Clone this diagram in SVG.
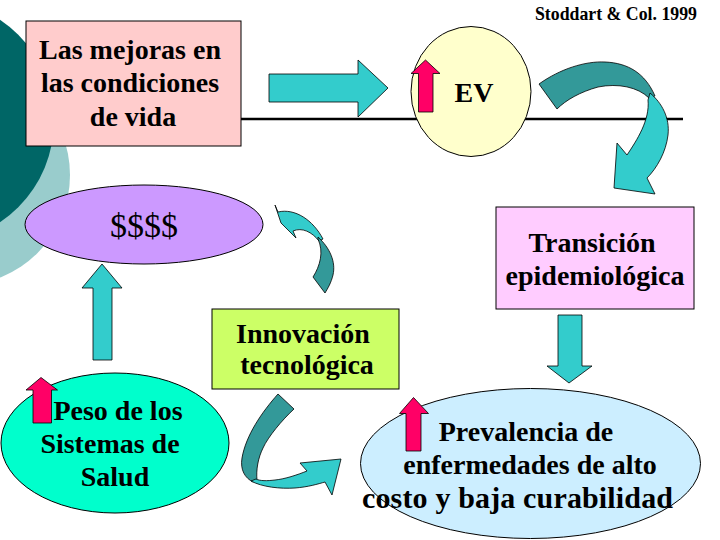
<svg xmlns="http://www.w3.org/2000/svg" width="720" height="540" viewBox="0 0 720 540">
<style>
.t{font-family:"Liberation Serif","Times New Roman",serif;font-weight:bold;font-size:28px;fill:#000;text-anchor:middle}
.s{stroke:#000;stroke-width:1}
.cy{fill:#33cccc;stroke:#000;stroke-width:0.8;stroke-linejoin:round}
.dk{fill:#339999;stroke:#000;stroke-width:0.8;stroke-linejoin:round}
.rd{fill:#ff0066;stroke:#000;stroke-width:0.8}
</style>
<rect width="720" height="540" fill="#fff"/>
<g id="background">
<circle cx="-40" cy="175" r="110" fill="#99cccc"/>
<circle cx="-68" cy="121" r="122" fill="#006666"/>
</g>
<line x1="241" y1="119" x2="683" y2="119" stroke="#000" stroke-width="2.5"/>
<g id="node-mejoras">
<rect x="26" y="21" width="215" height="125" fill="#ffcccc" class="s"/>
<text class="t" x="130" y="59">Las mejoras en</text>
<text class="t" x="130" y="92">las condiciones</text>
<text class="t" x="133" y="126">de vida</text>
</g>
<g id="node-ev">
<ellipse cx="471" cy="91.5" rx="60" ry="65" fill="#ffffcc" class="s"/>
<path class="rd" d="M425.5,60 L440,73.5 L433,73.5 L433,112 L418.5,112 L418.5,73.5 L411,73.5 Z"/>
<text class="t" x="474" y="102">EV</text>
</g>
<g id="node-dinero">
<ellipse cx="144" cy="224.5" rx="119" ry="39.5" fill="#cc99ff" class="s"/>
<text x="144" y="237" style="font-family:'Liberation Serif','Times New Roman',serif;font-size:34px;text-anchor:middle">$$$$</text>
</g>
<g id="node-transicion">
<rect x="496" y="207" width="198" height="102" fill="#ffccff" class="s"/>
<text class="t" x="592" y="252">Transición</text>
<text class="t" x="595" y="285">epidemiológica</text>
</g>
<g id="node-innovacion">
<rect x="212" y="309" width="187" height="80" fill="#ccff66" class="s"/>
<text class="t" x="303" y="343">Innovación</text>
<text class="t" x="307" y="374">tecnológica</text>
</g>
<g id="node-peso">
<ellipse cx="115" cy="443" rx="114" ry="70" fill="#00ffcc" class="s"/>
<path class="rd" d="M41,377.5 L57.5,390 L51.5,390 L51.5,423 L33,423 L33,390 L26,390 Z"/>
<text class="t" x="118" y="420">Peso de los</text>
<text class="t" x="110" y="453">Sistemas de</text>
<text class="t" x="115" y="486">Salud</text>
</g>
<g id="node-prevalencia">
<ellipse cx="530.5" cy="463.5" rx="170" ry="75" fill="#cceeff" class="s"/>
<path class="rd" d="M413.5,397.5 L428.5,413.5 L421,413.5 L421,451 L406,451 L406,413.5 L399.5,413.5 Z"/>
<text class="t" x="526" y="441">Prevalencia de</text>
<text class="t" x="530" y="474">enfermedades de alto</text>
<text class="t" x="517.5" y="508" style="font-size:30px" textLength="311" lengthAdjust="spacing">costo y baja curabilidad</text>
</g>
<g id="connectors">
<path class="cy" d="M269,74 L358,74 L358,60 L388,88 L358,117 L358,102 L269,102 Z"/>
<path class="dk" d="M539,84 C560,69 585,61 605,62 C628,63 645,73 655,96 L649,98 C638,87 618,83 598,87 C580,92 566,100 557,109 Z"/>
<path class="cy" d="M650,93 C662,103 670,118 668,135 C666,152 657,168 647,178 L655,194 L614,188 L617,143 L627,155 C637,140 650,120 648,100 Z"/>
<path class="cy" d="M558,315 L582,315 L582,366 L592,366 L569,383 L547,366 L558,366 Z"/>
<path class="cy" d="M102,264 L122,288 L112,288 L112,360 L93,360 L93,288 L82,288 Z"/>
<path class="cy" d="M278,212 C295,208 313,220 323,239 L319,241 C312,232 302,227 293,231 L296,238 L281,223 L275,205 Z"/>
<path class="dk" d="M318,237 C330,248 336,262 333,275 C331,283 328,288 325,293 L313,277 C320,266 324,252 318,239 Z"/>
<path class="dk" d="M278,394 C262,412 246,435 242,458 C240,470 245,478 253,482 L257,480 C256,470 258,458 263,448 C268,437 282,420 294,409 Z"/>
<path class="cy" d="M251,481 C262,487 280,489 295,488 C308,487 318,484 325,482 L332,495 L341,459 L300,463 L307,471 C297,475 285,479 275,480 C267,481 260,481 256,479 Z"/>
</g>
<text x="697" y="20" style="font-family:'Liberation Serif','Times New Roman',serif;font-weight:bold;font-size:17.8px;text-anchor:end">Stoddart &amp; Col. 1999</text>
</svg>
